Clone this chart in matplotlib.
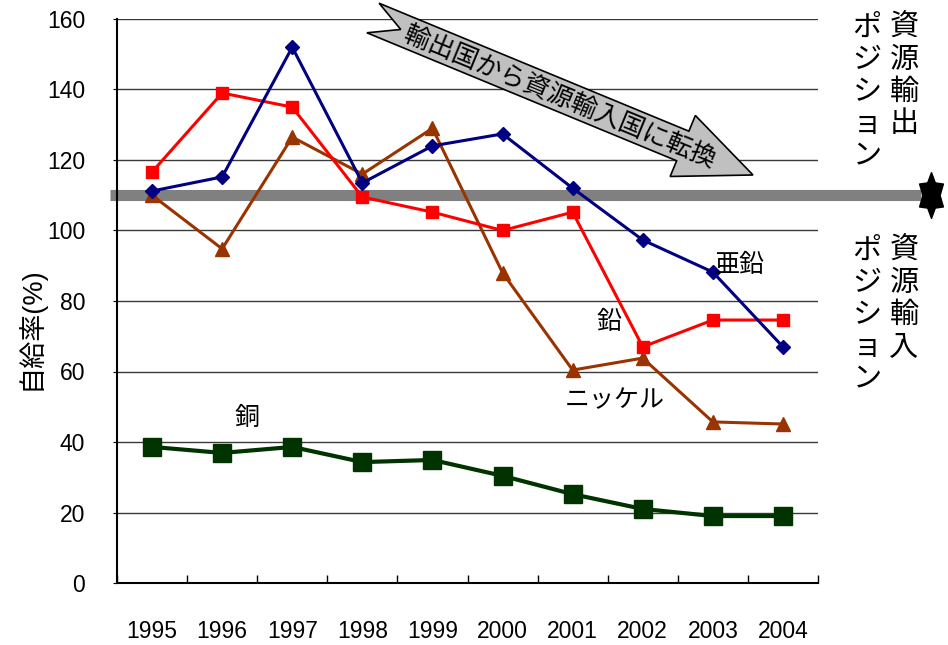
import numpy as np
import matplotlib
matplotlib.use("Agg")
import matplotlib.pyplot as plt
from matplotlib.path import Path
from matplotlib.patches import Polygon
import matplotlib.transforms as mtransforms

plt.rcParams["font.family"] = ["Liberation Sans", "Noto Sans CJK JP", "DejaVu Sans"]

years = ["1995", "1996", "1997", "1998", "1999", "2000", "2001", "2002", "2003", "2004"]
zinc = [111.2, 115.2, 152.0, 113.5, 124.0, 127.4, 112.0, 97.3, 88.2, 67.0]
lead = [116.6, 139.0, 135.0, 109.5, 105.2, 100.0, 105.2, 67.0, 74.6, 74.6]
nickel = [110.0, 94.8, 126.5, 116.0, 129.0, 88.0, 60.4, 63.8, 45.7, 45.1]
copper = [38.6, 36.9, 38.6, 34.3, 34.9, 30.4, 25.2, 21.0, 19.0, 19.0]
threshold = 110
yticks = [0, 20, 40, 60, 80, 100, 120, 140, 160]

W, H = 948, 645
fig = plt.figure(figsize=(W / 100, H / 100), dpi=100)
ax = fig.add_axes([117 / W, 1 - 583 / H, 701 / W, 564 / H])

x = np.arange(len(years))
ax.set_xlim(-0.5, len(years) - 0.5)
ax.set_ylim(0, 160)

for y in yticks[1:]:
    ax.axhline(y, color="#3a3a3a", lw=1.0, zorder=1)

# threshold band, runs past the plot to the right-hand marker
ax.axhline(threshold, xmin=-0.01, xmax=1.147, color="#808080", lw=8, zorder=2,
           clip_on=False, solid_capstyle="butt")
star = Path([(0, 1), (0.32, 0.55), (1, 0.5), (0.72, 0.0), (1, -0.5), (0.32, -0.55),
             (0, -1), (-0.32, -0.55), (-1, -0.5), (-0.72, 0.0), (-1, 0.5), (-0.32, 0.55),
             (0, 1)])
star = Path(star.vertices * [0.52, 1.0])
trans = mtransforms.blended_transform_factory(ax.transAxes, ax.transData)
ax.plot([1.1605], [threshold], marker=star, ms=33, color="black", transform=trans,
        clip_on=False, zorder=5)

ax.plot(x, copper, color="#003300", lw=3, marker="s", ms=13, zorder=3)
ax.plot(x, nickel, color="#993300", lw=2.2, marker="^", ms=9.5, zorder=4)
ax.plot(x, lead, color="#FF0000", lw=2.2, marker="s", ms=8, zorder=4)
ax.plot(x, zinc, color="#000080", lw=2.2, marker="D", ms=7, zorder=4)

for s in ["top", "right"]:
    ax.spines[s].set_visible(False)
for s in ["left", "bottom"]:
    ax.spines[s].set_linewidth(1.5)
    ax.spines[s].set_color("black")

ax.set_yticks(yticks)
ax.tick_params(axis="y", direction="out", length=3, pad=20, labelsize=16.5)
ax.set_xticks(x)
ax.set_xticklabels(years)
ax.set_xticks(np.arange(len(years) + 1) - 0.5, minor=True)
ax.tick_params(axis="x", which="major", length=0, pad=27, labelsize=16.5)
ax.tick_params(axis="x", which="minor", direction="in", length=6, width=1)
fig.text(30 / W, 1 - 328 / H, "自給率(%)", fontsize=19.5, rotation=90,
         ha="center", va="center")

lab = dict(fontsize=18, ha="center", va="center", zorder=6)
ax.text(8.39, 90.2, "亜鉛", **lab)
ax.text(6.52, 74.0, "鉛", **lab)
ax.text(6.6, 51.9, "ニッケル", **lab)
ax.text(1.35, 46.8, "銅", **lab)

# notched arrow, built in pixel space
tail = np.array([373.0, 18.0])
tip = np.array([753.0, 175.0])
L = np.hypot(*(tip - tail))
u = (tip - tail) / L
n = np.array([-u[1], u[0]])
hl, sw, hw, nd = 76, 16, 33, 30
local = [(0, -sw), (L - hl, -sw), (L - hl, -hw), (L, 0), (L - hl, hw),
         (L - hl, sw), (0, sw), (nd, 0)]
pix = np.array([tail + s * u + w * n for s, w in local])
fig_pts = np.column_stack([pix[:, 0] / W, 1 - pix[:, 1] / H])
fig.patches.append(Polygon(fig_pts, closed=True, transform=fig.transFigure,
                           facecolor="#C0C0C0", edgecolor="black", lw=1.2, zorder=6))
c = tail + 203 * u + 3 * n
ang = -np.degrees(np.arctan2(u[1], u[0]))
fig.text(c[0] / W, 1 - c[1] / H, "輸出国から資源輸入国に転換", fontsize=18.5,
         rotation=ang, rotation_mode="anchor", ha="center", va="center", zorder=7)

vt = dict(fontsize=21, ha="center", va="top", linespacing=1.18, multialignment="center")
fig.text(904 / W, 1 - 14 / H, "\n".join("資源輸出"), **vt)
fig.text(867 / W, 1 - 14 / H, "\n".join("ポジション"), **vt)
fig.text(904 / W, 1 - 237 / H, "\n".join("資源輸入"), **vt)
fig.text(867 / W, 1 - 237 / H, "\n".join("ポジション"), **vt)

fig.savefig("out.png", dpi=100)
